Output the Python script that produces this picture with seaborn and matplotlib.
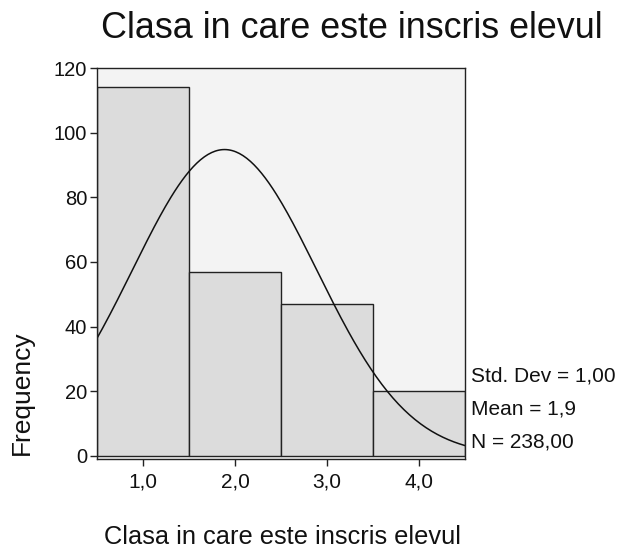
import numpy as np
import pandas as pd
import matplotlib
matplotlib.use("Agg")
import matplotlib.pyplot as plt
import seaborn as sns

classes = [1, 2, 3, 4]
counts = [114, 57, 47, 20]
tick_labels = ["1,0", "2,0", "3,0", "4,0"]
stats_lines = ["Std. Dev = 1,00", "Mean = 1,9", "N = 238,00"]

sns.set_style("white")
plt.rcParams["font.family"] = ["Liberation Sans", "DejaVu Sans"]
plt.rcParams["text.color"] = "#111111"
plt.rcParams["xtick.color"] = "#111111"
plt.rcParams["ytick.color"] = "#111111"

df = pd.DataFrame({"clasa": classes, "n": counts})

# normal curve from the sample's mean / sd, scaled to counts (bin width 1)
N = df["n"].sum()
mean = np.average(df["clasa"], weights=df["n"])
sd = np.sqrt(np.sum(df["n"] * (df["clasa"] - mean) ** 2) / (N - 1))
xs = np.linspace(0.5, 4.5, 200)
curve = pd.DataFrame({"x": xs, "y": N * np.exp(-0.5 * ((xs - mean) / sd) ** 2) / (sd * np.sqrt(2 * np.pi))})

fig = plt.figure(figsize=(6.21, 5.52), dpi=100)
ax = fig.add_axes([97 / 621, 1 - 459 / 552, 368 / 621, 391 / 552])
ax.set_facecolor("#f3f3f3")

sns.histplot(data=df, x="clasa", weights="n", binwidth=1, binrange=(0.5, 4.5),
             color="#dcdcdc", edgecolor="#222222", linewidth=1.0, alpha=1, ax=ax)
sns.lineplot(data=curve, x="x", y="y", color="#111111", linewidth=1.1, ax=ax)

ax.set_xlim(0.5, 4.5)
ax.set_ylim(-1, 120)
ax.set_xticks(classes)
ax.set_xticklabels(tick_labels)
ax.set_yticks(range(0, 121, 20))
ax.tick_params(axis="both", length=5, direction="out", width=1,
               left=True, bottom=True, color="#222222")
ax.tick_params(axis="y", labelsize=14.5, pad=2)
ax.tick_params(axis="x", labelsize=15, pad=5)
for s in ax.spines.values():
    s.set_color("#222222")
    s.set_linewidth(1.0)
ax.set_xlabel("")
ax.set_ylabel("")

fig.text(352 / 621, 1 - 28 / 552, "Clasa in care este inscris elevul",
         ha="center", va="center", fontsize=25.8)
fig.text(282 / 621, 1 - 537 / 552, "Clasa in care este inscris elevul",
         ha="center", va="center", fontsize=18.3)
fig.text(22 / 621, 1 - 393 / 552, "Frequency", rotation=90,
         ha="center", va="center", fontsize=19)
for i, line in enumerate(stats_lines):
    fig.text(471 / 621, 1 - (376 + 33 * i) / 552, line,
             ha="left", va="center", fontsize=15)

fig.savefig("out.png", dpi=100, facecolor="white")
